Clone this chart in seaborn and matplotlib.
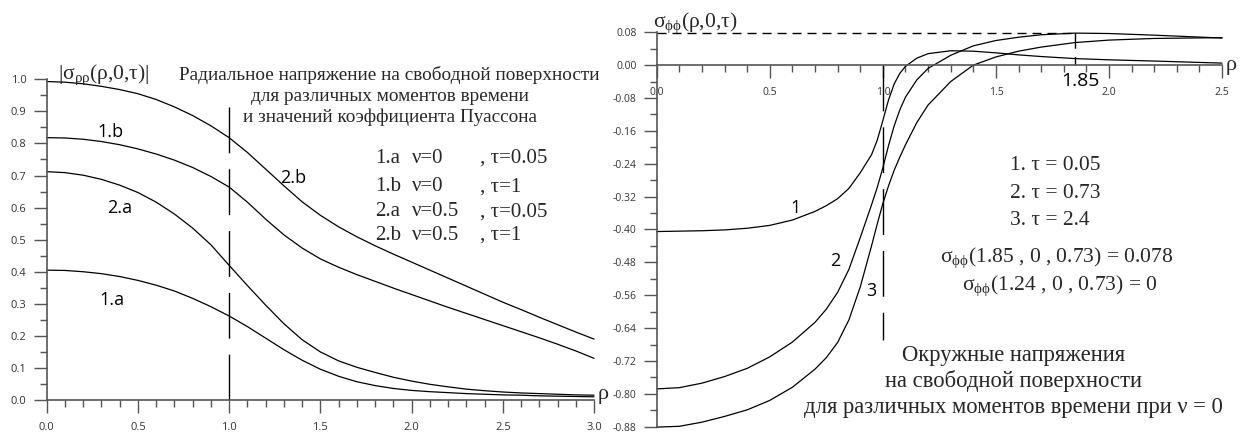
import matplotlib
matplotlib.use('Agg')
import numpy as np
import pandas as pd
import matplotlib.pyplot as plt
import seaborn as sns

# --- left panel: |sigma_rr| on the free surface ---
RHO_L = [0.0, 0.1, 0.2, 0.3, 0.4, 0.5, 0.6, 0.7, 0.8, 0.9, 1.0, 1.1, 1.2, 1.3, 1.4, 1.5,
         1.6, 1.7, 1.8, 1.9, 2.0, 2.1, 2.2, 2.3, 2.4, 2.5, 2.6, 2.7, 2.8, 2.9, 3.0]
S_1A = [0.405, 0.404, 0.400, 0.394, 0.385, 0.373, 0.358, 0.340, 0.317, 0.291, 0.262, 0.229,
        0.193, 0.157, 0.124, 0.096, 0.074, 0.057, 0.045, 0.036, 0.030, 0.026, 0.023, 0.020,
        0.018, 0.016, 0.015, 0.013, 0.012, 0.011, 0.010]
S_1B = [0.818, 0.817, 0.813, 0.806, 0.796, 0.783, 0.767, 0.748, 0.725, 0.697, 0.664, 0.617,
        0.564, 0.515, 0.474, 0.440, 0.414, 0.391, 0.370, 0.349, 0.329, 0.309, 0.289, 0.270,
        0.251, 0.232, 0.213, 0.194, 0.174, 0.153, 0.130]
S_2A = [0.712, 0.709, 0.701, 0.688, 0.670, 0.647, 0.617, 0.580, 0.536, 0.484, 0.420, 0.357,
        0.296, 0.238, 0.188, 0.150, 0.122, 0.102, 0.086, 0.071, 0.059, 0.049, 0.041, 0.034,
        0.029, 0.025, 0.022, 0.020, 0.018, 0.016, 0.015]
S_2B = [0.993, 0.991, 0.986, 0.978, 0.968, 0.955, 0.937, 0.914, 0.887, 0.855, 0.818, 0.772,
        0.720, 0.668, 0.618, 0.576, 0.540, 0.509, 0.481, 0.455, 0.430, 0.405, 0.380, 0.355,
        0.330, 0.305, 0.282, 0.258, 0.235, 0.212, 0.190]
CURVE_NAMES_L = ['1.a', '1.b', '2.a', '2.b']

# --- right panel: sigma_phiphi for nu = 0 ---
RHO_R = [0.0, 0.1, 0.2, 0.3, 0.4, 0.5, 0.6, 0.7, 0.75, 0.8, 0.85, 0.9, 0.95, 0.975, 1.0,
         1.025, 1.05, 1.075, 1.1, 1.15, 1.2, 1.3, 1.4, 1.5, 1.6, 1.7, 1.85, 2.0, 2.2, 2.5]
S_T1 = [-0.405, -0.404, -0.403, -0.401, -0.397, -0.390, -0.377, -0.356, -0.342, -0.325,
        -0.300, -0.262, -0.218, -0.183, -0.135, -0.085, -0.046, -0.020, -0.003, 0.017,
        0.028, 0.035, 0.034, 0.030, 0.025, 0.021, 0.016, 0.013, 0.010, 0.005]
S_T2 = [-0.788, -0.785, -0.774, -0.758, -0.738, -0.710, -0.674, -0.626, -0.594, -0.553,
        -0.497, -0.420, -0.340, -0.298, -0.250, -0.196, -0.148, -0.109, -0.078, -0.036,
        -0.008, 0.024, 0.047, 0.060, 0.068, 0.074, 0.078, 0.077, 0.073, 0.066]
S_T3 = [-0.881, -0.879, -0.869, -0.855, -0.839, -0.816, -0.784, -0.740, -0.712, -0.675,
        -0.620, -0.540, -0.440, -0.387, -0.337, -0.294, -0.256, -0.224, -0.194, -0.140,
        -0.097, -0.040, 0.000, 0.020, 0.034, 0.044, 0.055, 0.061, 0.065, 0.067]
CURVE_NAMES_R = ['1', '2', '3']

PEAK_RHO = 1.85
PEAK_VAL = 0.078

XT_L = [0.0, 0.5, 1.0, 1.5, 2.0, 2.5, 3.0]
YT_L = [0.0, 0.1, 0.2, 0.3, 0.4, 0.5, 0.6, 0.7, 0.8, 0.9, 1.0]
XT_R = [0.0, 0.5, 1.0, 1.5, 2.0, 2.5]
YT_R = [0.08, 0.0, -0.08, -0.16, -0.24, -0.32, -0.40, -0.48, -0.56, -0.64, -0.72, -0.80, -0.88]

TITLE_L = ['Радиальное напряжение на свободной поверхности',
           'для различных моментов времени',
           'и значений коэффициента Пуассона']
LEGEND_L = [('1.a', 'ν=0', ', τ=0.05'), ('1.b', 'ν=0', ', τ=1'),
            ('2.a', 'ν=0.5', ', τ=0.05'), ('2.b', 'ν=0.5', ', τ=1')]
LEGEND_R = ['1. τ = 0.05', '2. τ = 0.73', '3. τ = 2.4']
NOTES_R = [r'$\sigma_{\phi\phi}$(1.85 , 0 , 0.73) = 0.078',
           r'$\sigma_{\phi\phi}$(1.24 , 0 , 0.73) = 0']
TITLE_R = ['Окружные напряжения', 'на свободной поверхности',
           'для различных моментов времени при ν = 0']

sns.set_theme(style='white')
plt.rcParams['font.family'] = ['Open Sans', 'DejaVu Sans']
plt.rcParams['mathtext.fontset'] = 'custom'
plt.rcParams['mathtext.rm'] = 'Liberation Serif'
plt.rcParams['mathtext.it'] = 'Liberation Serif'
plt.rcParams['mathtext.default'] = 'rm'

SERIF = 'Liberation Serif'
AX_COL = '#555555'
TXT_COL = '#333333'

df_l = pd.DataFrame({
    'rho': RHO_L * 4,
    'sigma': S_1A + S_1B + S_2A + S_2B,
    'curve': [n for n in CURVE_NAMES_L for _ in RHO_L],
})
df_r = pd.DataFrame({
    'rho': RHO_R * 3,
    'sigma': S_T1 + S_T2 + S_T3,
    'curve': [n for n in CURVE_NAMES_R for _ in RHO_R],
})

fig = plt.figure(figsize=(12.48, 4.34), dpi=100)
ax1 = fig.add_axes([0.0374, 0.0783, 0.4386, 0.7390])
ax2 = fig.add_axes([0.5262, 0.0168, 0.4530, 0.9088])

sns.lineplot(data=df_l, x='rho', y='sigma', hue='curve', palette=['black'] * 4,
             legend=False, lw=0.9, ax=ax1)
sns.lineplot(data=df_r, x='rho', y='sigma', hue='curve', palette=['black'] * 3,
             legend=False, lw=0.9, ax=ax2)
for ax in (ax1, ax2):
    for ln in ax.lines:
        ln.set_clip_on(False)


def style_axes(ax, xt, xminor, yminor, lsize):
    for s in ('top', 'right'):
        ax.spines[s].set_visible(False)
    for s in ('left', 'bottom'):
        ax.spines[s].set_color(AX_COL)
        ax.spines[s].set_linewidth(1.2)
    ax.set_xticks(xt)
    ax.set_xticklabels([f'{t:.1f}' for t in xt])
    ax.set_xticks(xminor, minor=True)
    ax.set_yticks(yminor, minor=True)
    ax.tick_params(which='both', direction='out', color=AX_COL, width=1.0,
                   bottom=True, left=True, labelcolor=TXT_COL, labelsize=lsize)
    ax.tick_params(which='major', length=9.5)
    ax.tick_params(which='minor', length=5)
    ax.tick_params(axis='y', pad=5)
    ax.tick_params(axis='x', pad=6.5)
    ax.set_xlabel('')
    ax.set_ylabel('')
    ax.grid(False)


# left panel axes
ax1.set_xlim(0, 3.0)
ax1.set_ylim(0, 1.0)
style_axes(ax1, XT_L, np.arange(0, 3.01, 0.1), np.arange(0, 1.01, 0.05), 8)
ax1.set_yticks(YT_L)
ax1.set_yticklabels([f'{t:.1f}' for t in YT_L])

# right panel axes, x axis through zero
ax2.set_xlim(0, 2.5)
ax2.set_ylim(-0.88, 0.08)
style_axes(ax2, XT_R, np.arange(0, 2.51, 0.1), np.arange(-0.88, 0.081, 0.04), 7.5)
ax2.set_yticks(YT_R)
ax2.set_yticklabels([f'{t:.2f}' for t in YT_R])
ax2.spines['bottom'].set_position(('data', 0))

# dashed guides
ax1.plot([1.0, 1.0], [0, 0.925], color='black', lw=1, ls=(0, (33, 11.5)))
ax2.plot([1.0, 1.0], [0, -0.67], color='black', lw=1, ls=(0, (33, 11.5)))
ax2.plot([0, PEAK_RHO], [PEAK_VAL, PEAK_VAL], color='black', lw=1, ls=(0, (6.5, 4.3)),
         clip_on=False)
ax2.plot([PEAK_RHO, PEAK_RHO], [PEAK_VAL, 0], color='black', lw=1, ls=(0, (11, 6)))

# left panel text
ax1.text(0.062, 1.013, r'|$\sigma_{\rho\rho}$(ρ,0,τ)|', family=SERIF, fontsize=15.5,
         ha='left', va='center')
for t, yy in zip(TITLE_L, [1.013, 0.946, 0.883]):
    ax1.text(1.88, yy, t, family=SERIF, fontsize=13.9, ha='center', va='center')
for (a, b, c), yy in zip(LEGEND_L, [0.754, 0.665, 0.587, 0.514]):
    ax1.text(1.80, yy, a, family=SERIF, fontsize=15, ha='left', va='center')
    ax1.text(2.003, yy, b, family=SERIF, fontsize=15, ha='left', va='center')
    ax1.text(2.376, yy, c, family=SERIF, fontsize=15, ha='left', va='center')
for name, (xx, yy) in zip(['1.b', '2.a', '1.a', '2.b'],
                          [(0.347, 0.837), (0.402, 0.599), (0.358, 0.312), (1.35, 0.692)]):
    ax1.text(xx, yy, name, fontsize=13, ha='center', va='center', color='black')
ax1.text(3.017, 0.016, 'ρ', family=SERIF, fontsize=16, ha='left', va='center')

# right panel text
ax2.text(-0.016, 0.103, r'$\sigma_{\phi\phi}$(ρ,0,τ)', family=SERIF, fontsize=15.5,
         ha='left', va='center')
ax2.text(2.514, 0.0, 'ρ', family=SERIF, fontsize=16, ha='left', va='center')
ax2.text(1.872, -0.038, '1.85', fontsize=14, ha='center', va='center', color='black')
for name, (xx, yy) in zip(CURVE_NAMES_R, [(0.612, -0.347), (0.789, -0.476), (0.951, -0.549)]):
    ax2.text(xx, yy, name, fontsize=13, ha='center', va='center', color='black')
for t, yy in zip(LEGEND_R, [-0.245, -0.313, -0.379]):
    ax2.text(1.563, yy, t, family=SERIF, fontsize=15.5, ha='left', va='center')
for t, (xx, yy) in zip(NOTES_R, [(1.769, -0.468), (1.784, -0.537)]):
    ax2.text(xx, yy, t, family=SERIF, fontsize=15.5, ha='center', va='center')
for t, yy in zip(TITLE_R, [-0.707, -0.768, -0.833]):
    ax2.text(1.576, yy, t, family=SERIF, fontsize=16.3, ha='center', va='center')

fig.savefig('out.png', dpi=100)
